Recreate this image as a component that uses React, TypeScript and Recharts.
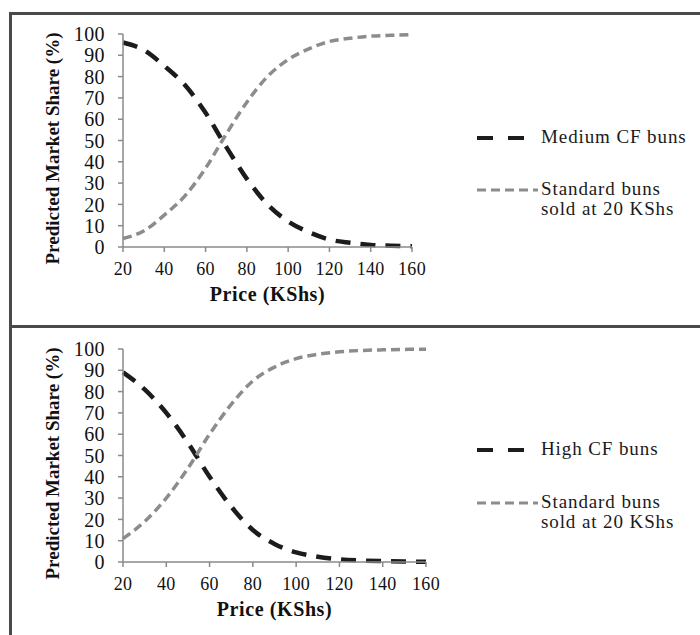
import { Line, LineChart, XAxis, YAxis } from "recharts";

// price in KShs
const prices = [20, 30, 40, 50, 60, 70, 80, 90, 100, 110, 120, 130, 140, 150, 160];

// upper panel: medium CF buns vs standard buns
const mediumCF = [96, 92.5, 85, 76, 63, 47, 32, 20, 12, 7, 3.5, 2, 1, 0.6, 0.3];
const standardVsMedium = [4, 7.5, 15, 24, 37, 53, 68, 80, 88, 93, 96.5, 98, 99, 99.4, 99.7];

// lower panel: high CF buns vs standard buns
const highCF = [89, 81, 70, 56, 40, 26, 15, 8.5, 4.5, 2.5, 1.3, 0.7, 0.4, 0.2, 0.1];
const standardVsHigh = [11, 19, 30, 44, 60, 74, 85, 91.5, 95.5, 97.5, 98.7, 99.3, 99.6, 99.8, 99.9];

const xTicks = [20, 40, 60, 80, 100, 120, 140, 160];
const yTicks = [0, 10, 20, 30, 40, 50, 60, 70, 80, 90, 100];

const xTitle = "Price (KShs)";
const yTitle = "Predicted Market Share (%)";
const standardName = ["Standard buns", "sold at 20 KShs"];

const serif = "'Liberation Serif', 'Times New Roman', serif";
const dark = "#1c1c1c";
const grey = "#8c8c8c";
const axisGrey = "#8a8a8a";

function buildRows(cf: number[], std: number[]) {
  return prices.map((p, i) => ({ price: p, cf: cf[i], std: std[i] }));
}

function renderXTitle(props: any) {
  const vb = props.viewBox || { x: 123, y: 246, width: 289 };
  return (
    <text
      x={vb.x + vb.width / 2}
      y={vb.y + 54}
      textAnchor="middle"
      fontFamily={serif}
      fontWeight="bold"
      fontSize={20}
      letterSpacing={0.6}
      fill="#111"
    >
      {xTitle}
    </text>
  );
}

function renderYTitle(props: any) {
  const vb = props.viewBox || { x: 63, y: 34, height: 212 };
  const cx = vb.x - 11;
  const cy = vb.y + vb.height / 2 + 8;
  return (
    <text
      x={cx}
      y={cy}
      transform={`rotate(-90 ${cx} ${cy})`}
      textAnchor="middle"
      dominantBaseline="central"
      fontFamily={serif}
      fontWeight="bold"
      fontSize={19}
      fill="#111"
    >
      {yTitle}
    </text>
  );
}

function Panel({
  top,
  width,
  marginRight,
  cf,
  std,
  cfName,
  legendY
}: {
  top: number;
  width: number;
  marginRight: number;
  cf: number[];
  std: number[];
  cfName: string;
  legendY: number[];
}) {
  const rows = buildRows(cf, std);
  const textStyle = {
    position: "absolute" as const,
    left: 541,
    fontFamily: serif,
    fontSize: 19,
    letterSpacing: 0.9,
    color: "#1a1a1a",
    lineHeight: "20px",
    whiteSpace: "nowrap" as const
  };
  return (
    <div style={{ position: "absolute", left: 0, top, width: 700, height: 320 }}>
      <LineChart
        width={width}
        height={320}
        data={rows}
        margin={{ top: 34, right: marginRight, bottom: 17, left: 63 }}
      >
        <XAxis
          dataKey="price"
          type="number"
          domain={[20, 160]}
          ticks={xTicks}
          height={56}
          tickSize={5}
          tickMargin={10}
          stroke={axisGrey}
          strokeWidth={1.5}
          tick={{ fill: "#111", fontSize: 18, fontFamily: serif, letterSpacing: 0.3 }}
          label={{ content: renderXTitle }}
        />
        <YAxis
          type="number"
          domain={[0, 100]}
          ticks={yTicks}
          width={60}
          tickSize={5}
          tickMargin={13}
          stroke={axisGrey}
          strokeWidth={1.5}
          interval={0}
          tick={{ fill: "#111", fontSize: 20, fontFamily: serif, letterSpacing: 0.4 }}
          label={{ content: renderYTitle }}
        />
        <Line
          dataKey="cf"
          type="monotone"
          stroke={dark}
          strokeWidth={4.5}
          strokeDasharray="15 10"
          dot={false}
          isAnimationActive={false}
        />
        <Line
          dataKey="std"
          type="monotone"
          stroke={grey}
          strokeWidth={3.5}
          strokeDasharray="9 5"
          dot={false}
          isAnimationActive={false}
        />
      </LineChart>

      <svg style={{ position: "absolute", left: 476, top: legendY[0] - 3 }} width={50} height={6}>
        <line x1={1} y1={3} x2={48} y2={3} stroke={dark} strokeWidth={4} strokeDasharray="16 15" />
      </svg>
      <div style={{ ...textStyle, top: legendY[0] - 11 }}>{cfName}</div>

      <svg style={{ position: "absolute", left: 476, top: legendY[1] - 3 }} width={62} height={6}>
        <line x1={1} y1={3} x2={62} y2={3} stroke={grey} strokeWidth={3} strokeDasharray="9 5" />
      </svg>
      <div style={{ ...textStyle, top: legendY[1] - 11 }}>{standardName[0]}</div>
      <div style={{ ...textStyle, top: legendY[1] + 9 }}>{standardName[1]}</div>
    </div>
  );
}

export default function App() {
  return (
    <div
      style={{
        position: "absolute",
        left: 0,
        top: 0,
        width: 700,
        height: 635,
        background: "#fff",
        overflow: "hidden"
      }}
    >
      <Panel
        top={0}
        width={440}
        marginRight={28}
        cf={mediumCF}
        std={standardVsMedium}
        cfName="Medium CF buns"
        legendY={[138, 190]}
      />
      <Panel
        top={315}
        width={460}
        marginRight={34}
        cf={highCF}
        std={standardVsHigh}
        cfName="High CF buns"
        legendY={[135, 188]}
      />
      {/* frame: top edge, left edge, divider between panels */}
      <div style={{ position: "absolute", left: 9, top: 12, width: 691, height: 3, background: "#4a4a4a" }} />
      <div style={{ position: "absolute", left: 9, top: 12, width: 3, height: 623, background: "#4a4a4a" }} />
      <div style={{ position: "absolute", left: 9, top: 325, width: 691, height: 3, background: "#4a4a4a" }} />
    </div>
  );
}
